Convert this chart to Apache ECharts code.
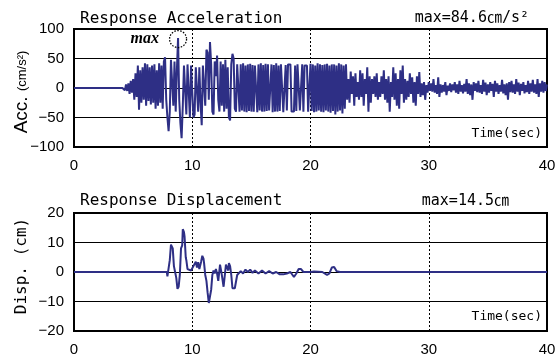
<!DOCTYPE html>
<html>
<head>
<meta charset="utf-8">
<script src="https://cdn.jsdelivr.net/npm/echarts@6/dist/echarts.min.js"></script>
<style>html,body{margin:0;padding:0;background:#fff}#c{width:560px;height:361px}</style>
</head>
<body>
<div id="c"></div>
<script>
// ---- data ----
const xTicks = [0, 10, 20, 30, 40];
const accTicks = [-100, -50, 0, 50, 100];
const dispTicks = [-20, -10, 0, 10, 20];
const accT0 = 4.1;      // time of first sample (s)
const accDt = 0.1;      // sampling step (s)
const accValues = [
  0, 3, -4, 6, -5, 8, -10, 12, -8, 15,
  -20, 25, -15, 38, -37, 30, -25, 35, -20, 42,
  -30, 40, -22, 35, -28, 38, -25, 40, -35, 30,
  -30, 42, -25, 38, -35, 45, 52, -20, -50, -73,
  -40, 48, 50, -30, 45, -40, 30, 84.6, -20, -60,
  -85, -30, 38, 38, -45, 40, 38, -50, 38, 38,
  -50, -45, 35, 38, -40, 35, -25, -63, 38, 40,
  -30, 65, 60, -20, 78, 40, -40, -45, 45, 20,
  55, -20, -40, 45, -30, 40, -40, 48, -35, 35,
  -50, -55, 40, 58, 50, -35, -40, 40, 38, -40,
  40, -38, 42, -40, 38, -41, 40, -39, 41, -40,
  39, -40, 38, 38, -41, 40, -38, 42, -40, 39,
  -40, 41, -39, 40, -38, -38, 40, -41, 39, -40,
  42, -40, 38, -39, 40, 40, -41, -41, 39, -38,
  40, 40, 40, -40, -40, -40, 38, -39, 40, 40,
  -38, -38, 40, -40, 38, 38, 38, -40, -40, 41,
  -39, 40, -41, 38, -40, 42, -38, 40, -40, 39,
  -41, 40, -38, 41, -40, 38, -42, 40, -39, 40,
  -45, 38, -40, 42, -38, 40, -43, 38, -35, 40,
  -20, 15, -25, 28, -10, 20, -30, 25, -15, 10,
  -20, 30, -15, 25, -30, 15, -10, 35, -40, 20,
  -25, 15, -10, 20, -15, 25, -20, 10, -15, 20,
  -10, 30, -20, 15, -25, 20, -40, 10, -15, 35,
  -20, 25, -30, 15, -35, 30, -10, 38, -25, 15,
  -20, 12, -15, 25, -10, 18, -25, 10, -30, 20,
  -10, 27, -15, 8, -12, 10, -20, 5, -8, 10,
  -5, 8, -6, 15, -8, 5, -10, 18, -15, 6,
  -8, 5, -6, 10, -12, 4, -5, 8, -7, 6,
  -4, 10, -8, 6, -10, 12, -6, 5, -9, 7,
  -6, 15, -10, 8, -12, 6, -20, 10, -5, 8,
  -7, 12, -8, 5, -10, 14, -6, 9, -12, 6,
  -8, 10, -5, 7, -15, 12, -6, 8, -10, 5,
  -6, 14, -9, 6, -12, 8, -20, 10, -7, 12,
  -8, 6, -10, 15, -6, 9, -12, 7, -5, 10,
  -9, 5, -7, 12, -10, 8, -6, 14, -8, 6,
  -10, 15, -15, 8, -6, 12, -8, 10, -5, 6
];
const dispTime = [0, 7.85, 7.9, 8.0, 8.1, 8.2, 8.3, 8.35, 8.45, 8.55, 8.65, 8.75, 8.85, 8.95, 9.05, 9.15, 9.2, 9.3, 9.35, 9.45, 9.5, 9.6, 9.7, 9.9, 10.0,
  10.1, 10.2, 10.3, 10.4, 10.5, 10.6, 10.75, 10.85, 10.95, 11.0, 11.1, 11.2, 11.3, 11.4, 11.5, 11.6, 11.7, 11.8, 11.9, 12.0,
  12.1, 12.2, 12.3, 12.35, 12.45, 12.5, 12.55, 12.65, 12.75, 12.85, 12.95, 13.05, 13.1, 13.2, 13.3, 13.4, 13.5, 13.6, 13.7, 13.8, 13.9,
  14.1, 14.3, 14.5, 14.7, 14.9, 15.1, 15.3, 15.6, 15.9, 16.2, 16.5, 16.8, 17.1, 17.4, 17.7, 18.0, 18.3, 18.6, 18.8, 19.0, 19.2, 19.4,
  20.0, 20.3, 21.0, 21.4, 21.6, 21.8, 22.0, 22.2, 22.5, 40];
const dispValue = [0, 0, -1.5, -1.5, 4, 9.3, 9, 8, 2, 0, -2, -5.7, -5, -1, 8, 9, 14.5, 13.5, 12, 5, 4, 1, 0.5, 0.5, 0.5,
  2, 1.5, 3.5, 1.5, 3.3, 1, 3.5, 5.5, 4.5, 3, -1, -3, -7, -10.5, -11, -6, -1, 0.5, -0.5, 1,
  -0.5, -3, -2.5, 2.5, 3, -1, -1.5, -5, -5, 2.5, 3, 0.5, 3, 2, -1, -5.5, -6, -5.5, -5, -1, -0.5,
  0.3, -0.5, 0.8, 0, 0.8, -0.3, 0.5, -0.5, 0.5, -0.5, 0.3, -0.5, 0, -0.8, -0.8, -0.5, 0, -1.7, -0.5, 1, 1, 0,
  0, 0.2, 0, -1, -0.5, 1.5, 1.7, 0.3, 0, 0];
const accMax = 84.6, dispMax = 14.5;

// ---- build ----
const accData = [[0, 0]].concat(accValues.map((v, i) => [+(accT0 + i * accDt).toFixed(2), v]));
const dispData = dispTime.map((t, i) => [t, dispValue[i]]);
const peakIdx = accValues.indexOf(accMax);
const peakPt = [+(accT0 + peakIdx * accDt).toFixed(2), accMax];

const LINE = '#2e2f85';
const MONO = '"DejaVu Sans Mono","Noto Sans CJK JP",monospace';
const SANS = '"Liberation Sans",Arial,sans-serif';
const minus = v => String(v).replace('-', '\u2212');

function xAxis(gi) {
  return {
    type: 'value', gridIndex: gi, min: xTicks[0], max: xTicks[xTicks.length - 1], interval: 10,
    axisLine: { show: false }, axisTick: { show: false },
    axisLabel: { color: '#000', fontFamily: SANS, fontSize: 15, margin: 11 },
    splitLine: { show: true, lineStyle: { color: '#000', width: 1, type: [2, 2] } }
  };
}
function yAxis(gi, ticks) {
  return {
    type: 'value', gridIndex: gi, min: ticks[0], max: ticks[ticks.length - 1], interval: ticks[1] - ticks[0],
    axisLine: { show: false }, axisTick: { show: false },
    axisLabel: { color: '#000', fontFamily: SANS, fontSize: 15, margin: 10, formatter: minus },
    splitLine: { show: true, lineStyle: { color: '#000', width: 1.2 } }
  };
}

const chart = echarts.init(document.getElementById('c'), null, { renderer: 'canvas' });
chart.setOption({
  animation: false,
  backgroundColor: '#fff',
  grid: [
    { left: 74, top: 29, width: 473, height: 118, show: true, borderColor: '#000', borderWidth: 2, backgroundColor: 'transparent' },
    { left: 74, top: 213, width: 473, height: 118, show: true, borderColor: '#000', borderWidth: 2, backgroundColor: 'transparent' }
  ],
  xAxis: [xAxis(0), xAxis(1)],
  yAxis: [yAxis(0, accTicks), yAxis(1, dispTicks)],
  series: [
    { type: 'line', xAxisIndex: 0, yAxisIndex: 0, data: accData, showSymbol: false, sampling: null,
      lineStyle: { color: LINE, width: 2 }, z: 5 },
    { type: 'line', xAxisIndex: 1, yAxisIndex: 1, data: dispData, showSymbol: false,
      lineStyle: { color: LINE, width: 2 }, z: 5 }
  ]
});

const pk = chart.convertToPixel({ gridIndex: 0 }, peakPt);
chart.setOption({
  graphic: [
    { type: 'text', x: 80, y: 19, style: { text: 'Response Acceleration', font: '16px ' + MONO, fill: '#000', textVerticalAlign: 'middle' } },
    { type: 'text', x: 529, y: 18, style: { text: 'max=' + accMax.toFixed(1) + '㎝/s²', font: '15px ' + MONO, fill: '#000', textAlign: 'right', textVerticalAlign: 'middle' } },
    { type: 'text', x: 542, y: 134, style: { text: 'Time(sec)', font: '13px ' + MONO, fill: '#000', textAlign: 'right', textVerticalAlign: 'middle' } },
    { type: 'text', x: pk[0] - 19, y: pk[1] + 1, style: { text: 'max', font: 'italic bold 16px "Liberation Serif",serif', fill: '#000', textAlign: 'right', textVerticalAlign: 'middle' } },
    { type: 'circle', shape: { cx: pk[0], cy: pk[1] + 1, r: 8.5 }, style: { fill: 'none', stroke: '#000', lineWidth: 1.3, lineDash: [1.5, 1.5] }, z: 10 },
    { type: 'text', x: 80, y: 201, style: { text: 'Response Displacement', font: '16px ' + MONO, fill: '#000', textVerticalAlign: 'middle' } },
    { type: 'text', x: 509, y: 201, style: { text: 'max=' + dispMax.toFixed(1) + '㎝', font: '15px ' + MONO, fill: '#000', textAlign: 'right', textVerticalAlign: 'middle' } },
    { type: 'text', x: 542, y: 317, style: { text: 'Time(sec)', font: '13px ' + MONO, fill: '#000', textAlign: 'right', textVerticalAlign: 'middle' } },
    { type: 'text', x: 22, y: 92, rotation: Math.PI / 2,
      style: { text: '{a|Acc. }{b|(cm/s²)}', fill: '#000', textAlign: 'center', textVerticalAlign: 'middle',
        rich: { a: { fontFamily: SANS, fontSize: 19, fill: '#000' }, b: { fontFamily: SANS, fontSize: 13, fill: '#000' } } } },
    { type: 'text', x: 22, y: 266, rotation: Math.PI / 2,
      style: { text: 'Disp. (cm)', font: '16px ' + MONO, fill: '#000', textAlign: 'center', textVerticalAlign: 'middle' } }
  ]
});
</script>
</body>
</html>
